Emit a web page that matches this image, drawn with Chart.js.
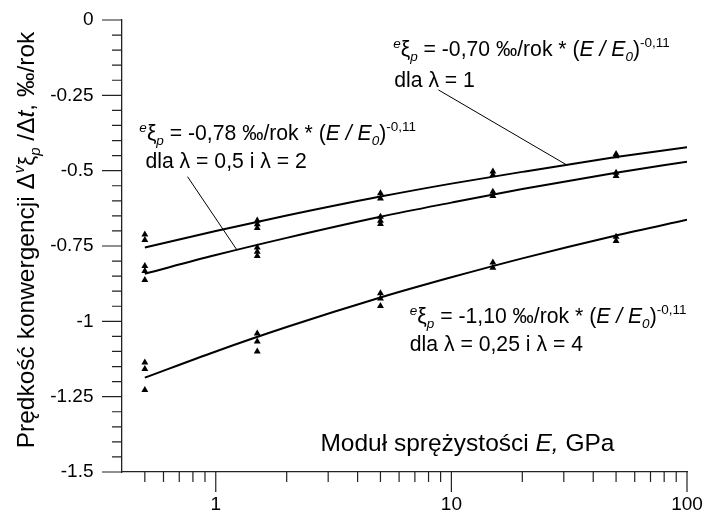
<!DOCTYPE html>
<html><head><meta charset="utf-8">
<script src="https://cdn.jsdelivr.net/npm/chart.js@4"></script>
<style>html,body{margin:0;padding:0;background:#fff}#wrap{width:703px;height:522px;position:relative}</style>
</head><body><div id="wrap"><canvas id="c"></canvas></div>
<script>
// ---------- values ----------
const fitE = [0.5, 1, 2, 5, 10, 20, 50, 100];
const fitLam1   = [-0.755, -0.700, -0.649, -0.586, -0.543, -0.504, -0.455, -0.422];
const fitLam05  = [-0.842, -0.780, -0.723, -0.653, -0.606, -0.561, -0.507, -0.470];
const fitLam025 = [-1.187, -1.100, -1.019, -0.921, -0.854, -0.791, -0.715, -0.663];

const measE = [0.5, 1.5, 5, 15, 50];
const measLam1   = [[-0.712, -0.730], [-0.665, -0.678, -0.690], [-0.575, -0.592], [-0.503, -0.514], [-0.445, -0.452]];
const measLam05  = [[-0.816, -0.833, -0.863], [-0.755, -0.769, -0.783], [-0.653, -0.666, -0.677], [-0.570, -0.584], [-0.507, -0.518]];
const measLam025 = [[-1.137, -1.158, -1.228], [-1.040, -1.067, -1.100], [-0.907, -0.924, -0.949], [-0.805, -0.822], [-0.719, -0.733]];

const xMajorTicks = [1, 10, 100];
const xMinorTicks = [0.5, 0.6, 0.7, 0.8, 0.9, 2, 3, 4, 5, 6, 7, 8, 9, 20, 30, 40, 50, 60, 70, 80, 90];
const yTickValues = [0, -0.25, -0.5, -0.75, -1, -1.25, -1.5];
const yTickLabels = ['0', '-0.25', '-0.5', '-0.75', '-1', '-1.25', '-1.5'];
const yMinorStep = 0.05;

// ---------- helpers ----------
const FAM = "'Liberation Sans', Arial, sans-serif";
function pairs(xs, ys) { return xs.map((x, i) => ({x: x, y: ys[i]})); }
function scatterPts(xs, groups) {
  const out = [];
  xs.forEach((x, i) => groups[i].forEach(v => out.push({x: x, y: v})));
  return out;
}
function drawRich(ctx, x, y, segs) {
  for (const s of segs) {
    ctx.font = (s.i ? 'italic ' : '') + s.size + 'px ' + FAM;
    ctx.fillText(s.t, x, y + (s.dy || 0));
    x += ctx.measureText(s.t).width;
  }
  return x;
}
function richWidth(ctx, segs) {
  let w = 0;
  for (const s of segs) { ctx.font = (s.i ? 'italic ' : '') + s.size + 'px ' + FAM; w += ctx.measureText(s.t).width; }
  return w;
}
const M = 21.2, S = 13.5;
function eqLine(coef) {
  return [
    {t: 'e', size: S, i: true, dy: -8},
    {t: 'ξ', size: M},
    {t: 'p', size: S, i: true, dy: 5},
    {t: ' = ' + coef + ' ‰/rok * (', size: M},
    {t: 'E / E', size: M, i: true},
    {t: '0', size: S, i: true, dy: 5},
    {t: ')', size: M},
    {t: '-0,11', size: S, dy: -9}
  ];
}
const annotations = [
  {x1: 5.66, x2: 5.72, y1: -0.121, y2: -0.221, coef: '-0,70', line2: 'dla λ = 1',
   lead: [8.81, -0.232, 30.7, -0.480]},
  {x1: 0.474, x2: 0.503, y1: -0.398, y2: -0.491, coef: '-0,78', line2: 'dla λ = 0,5 i λ = 2',
   lead: [0.759, -0.520, 1.227, -0.762]},
  {x1: 6.66, x2: 6.66, y1: -1.004, y2: -1.097, coef: '-1,10', line2: 'dla λ = 0,25 i λ = 4',
   lead: null}
];

const decor = {
  id: 'decor',
  afterDraw(chart) {
    const {ctx, scales: {x, y}, chartArea: a} = chart;
    ctx.save();
    // tick marks (outward; long at labelled values)
    ctx.strokeStyle = '#222'; ctx.lineWidth = 1.2;
    ctx.beginPath();
    xMajorTicks.forEach(v => { const p = x.getPixelForValue(v); ctx.moveTo(p, a.bottom); ctx.lineTo(p, a.bottom + 20); });
    xMinorTicks.forEach(v => { const p = x.getPixelForValue(v); ctx.moveTo(p, a.bottom); ctx.lineTo(p, a.bottom + 10); });
    const n = Math.round((y.max - y.min) / yMinorStep);
    for (let k = 0; k <= n; k++) {
      const v = y.max - k * yMinorStep;
      const p = y.getPixelForValue(v);
      const major = k % 5 === 0;
      ctx.moveTo(a.left, p); ctx.lineTo(a.left - (major ? 20 : 10), p);
    }
    ctx.stroke();
    // leader lines
    ctx.strokeStyle = '#000'; ctx.lineWidth = 1;
    annotations.forEach(an => {
      if (!an.lead) return;
      ctx.beginPath();
      ctx.moveTo(x.getPixelForValue(an.lead[0]), y.getPixelForValue(an.lead[1]));
      ctx.lineTo(x.getPixelForValue(an.lead[2]), y.getPixelForValue(an.lead[3]));
      ctx.stroke();
    });
    // annotation texts
    ctx.fillStyle = '#000'; ctx.textBaseline = 'alphabetic'; ctx.textAlign = 'left';
    annotations.forEach(an => {
      drawRich(ctx, x.getPixelForValue(an.x1), y.getPixelForValue(an.y1), eqLine(an.coef));
      drawRich(ctx, x.getPixelForValue(an.x2), y.getPixelForValue(an.y2), [{t: an.line2, size: M}]);
    });
    // x axis title (inside the plot)
    drawRich(ctx, x.getPixelForValue(2.78), y.getPixelForValue(-1.430), [
      {t: 'Moduł sprężystości ', size: 24.5}, {t: 'E,', size: 24.5, i: true}, {t: ' GPa', size: 24.5}
    ]);
    // y axis title (rotated)
    const ySegs = [
      {t: 'Prędkość konwergencji ', size: 24.5},
      {t: 'Δ', size: 24.5},
      {t: 'v', size: 15, i: true, dy: -10},
      {t: 'ξ', size: 22},
      {t: 'p', size: 15, i: true, dy: 6},
      {t: ' /Δ', size: 24.5},
      {t: 't', size: 24.5, i: true},
      {t: ', ‰/rok', size: 24.5}
    ];
    const w = richWidth(ctx, ySegs);
    ctx.translate(34, (a.top + a.bottom) / 2 - 6);
    ctx.rotate(-Math.PI / 2);
    drawRich(ctx, -w / 2, 0, ySegs);
    ctx.restore();
  }
};

const lineDs = (data) => ({type: 'line', data: data, showLine: true, borderColor: '#000', borderWidth: 2,
  pointRadius: 0, fill: false, cubicInterpolationMode: 'monotone', order: 2});
const ptDs = (data) => ({type: 'scatter', data: data, showLine: false, pointStyle: 'triangle', pointRadius: 4,
  backgroundColor: '#000', borderColor: '#000', borderWidth: 0, order: 1});

new Chart(document.getElementById('c'), {
  type: 'scatter',
  data: {
    datasets: [
      lineDs(pairs(fitE, fitLam1)),
      lineDs(pairs(fitE, fitLam05)),
      lineDs(pairs(fitE, fitLam025)),
      ptDs(scatterPts(measE, measLam1)),
      ptDs(scatterPts(measE, measLam05)),
      ptDs(scatterPts(measE, measLam025))
    ]
  },
  options: {
    responsive: true, maintainAspectRatio: false, animation: false,
    layout: {padding: {left: 0, right: 16, top: 20, bottom: 0}},
    plugins: {legend: {display: false}, tooltip: {enabled: false}},
    scales: {
      x: {
        type: 'logarithmic', min: 0.4, max: 100,
        afterBuildTicks: s => { s.ticks = xMajorTicks.map(v => ({value: v})); },
        afterFit: s => { s.height = 50; s.paddingLeft = 0; s.paddingRight = 0; },
        grid: {display: false, drawTicks: false},
        border: {display: true, color: '#222', width: 1.3},
        ticks: {color: '#000', padding: 21, font: {family: FAM, size: 19}, maxRotation: 0,
          callback: v => String(v)}
      },
      y: {
        type: 'linear', min: -1.5, max: 0,
        afterBuildTicks: s => { s.ticks = yTickValues.map(v => ({value: v})); },
        afterFit: s => { s.width = 122; s.paddingTop = 0; s.paddingBottom = 0; },
        grid: {display: false, drawTicks: false},
        border: {display: true, color: '#222', width: 1.3},
        ticks: {color: '#000', padding: 28.5, font: {family: FAM, size: 19},
          callback: (v, i) => yTickLabels[i]}
      }
    }
  },
  plugins: [decor]
});
</script>
</body></html>
